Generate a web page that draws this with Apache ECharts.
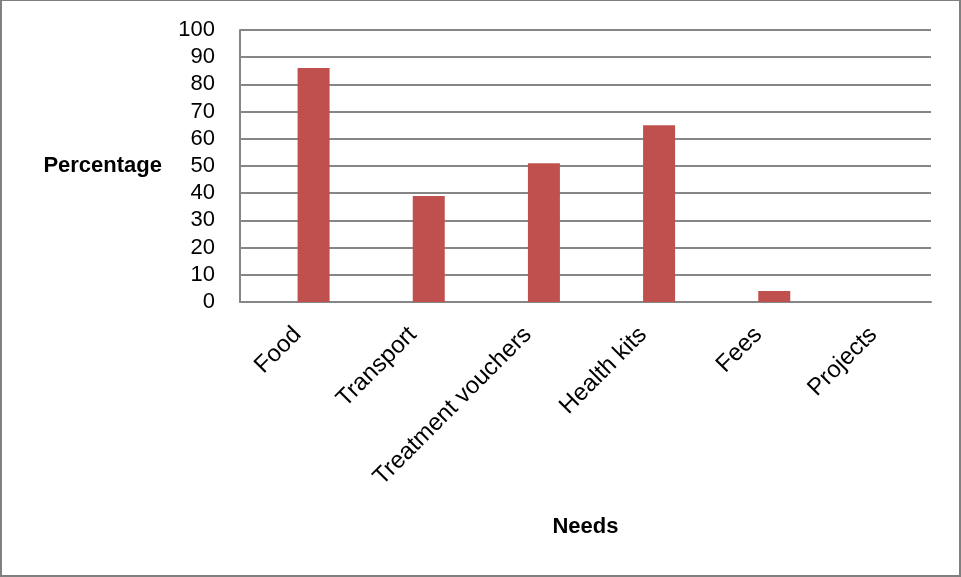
<!DOCTYPE html>
<html><head><meta charset="utf-8">
<script src="https://cdn.jsdelivr.net/npm/echarts@6/dist/echarts.min.js"></script>
<style>html,body{margin:0;padding:0;background:#fff}#c{width:961px;height:577px;box-sizing:border-box;border-left:2px solid #808080;border-top:1px solid #808080;border-right:2px solid #808080;border-bottom:2px solid #808080}</style>
</head><body><div id="c"></div>
<script>
const categories = ["Food", "Transport", "Treatment vouchers", "Health kits", "Fees", "Projects"];
const values = [86, 39, 51, 65, 4, 0];
const blank = [null, null, null, null, null, null];
const yTicks = [0, 10, 20, 30, 40, 50, 60, 70, 80, 90, 100];
const font = "'Liberation Sans', Arial, sans-serif";
const chart = echarts.init(document.getElementById('c'));
chart.setOption({
  animation: false,
  grid: {left: 238, right: 28, top: 29, bottom: 273, containLabel: false, outerBoundsMode: 'none'},
  xAxis: {
    type: 'category', data: categories,
    axisLine: {lineStyle: {color: '#868686', width: 2}},
    axisTick: {show: false},
    axisLabel: {rotate: 45, color: '#000', fontSize: 24, fontFamily: font, margin: 29, interval: 0},
    name: 'Needs', nameLocation: 'middle', nameGap: 214,
    nameTextStyle: {fontSize: 22, fontWeight: 'bold', color: '#000', fontFamily: font}
  },
  yAxis: {
    type: 'value', min: yTicks[0], max: yTicks[yTicks.length - 1], interval: 10,
    axisLine: {show: true, lineStyle: {color: '#868686', width: 2}},
    axisTick: {show: false},
    splitLine: {lineStyle: {color: '#868686', width: 2}},
    axisLabel: {color: '#000', fontSize: 22, fontFamily: font, margin: 25},
    name: 'Percentage', nameLocation: 'middle', nameRotate: 0, nameGap: 78,
    nameTextStyle: {fontSize: 22, fontWeight: 'bold', color: '#000', fontFamily: font}
  },
  series: [
    {type: 'bar', data: blank, barWidth: 32, barGap: '0%'},
    {type: 'bar', data: values, barWidth: 32, barGap: '0%',
     itemStyle: {color: '#C0504D'}}
  ]
});
</script></body></html>
